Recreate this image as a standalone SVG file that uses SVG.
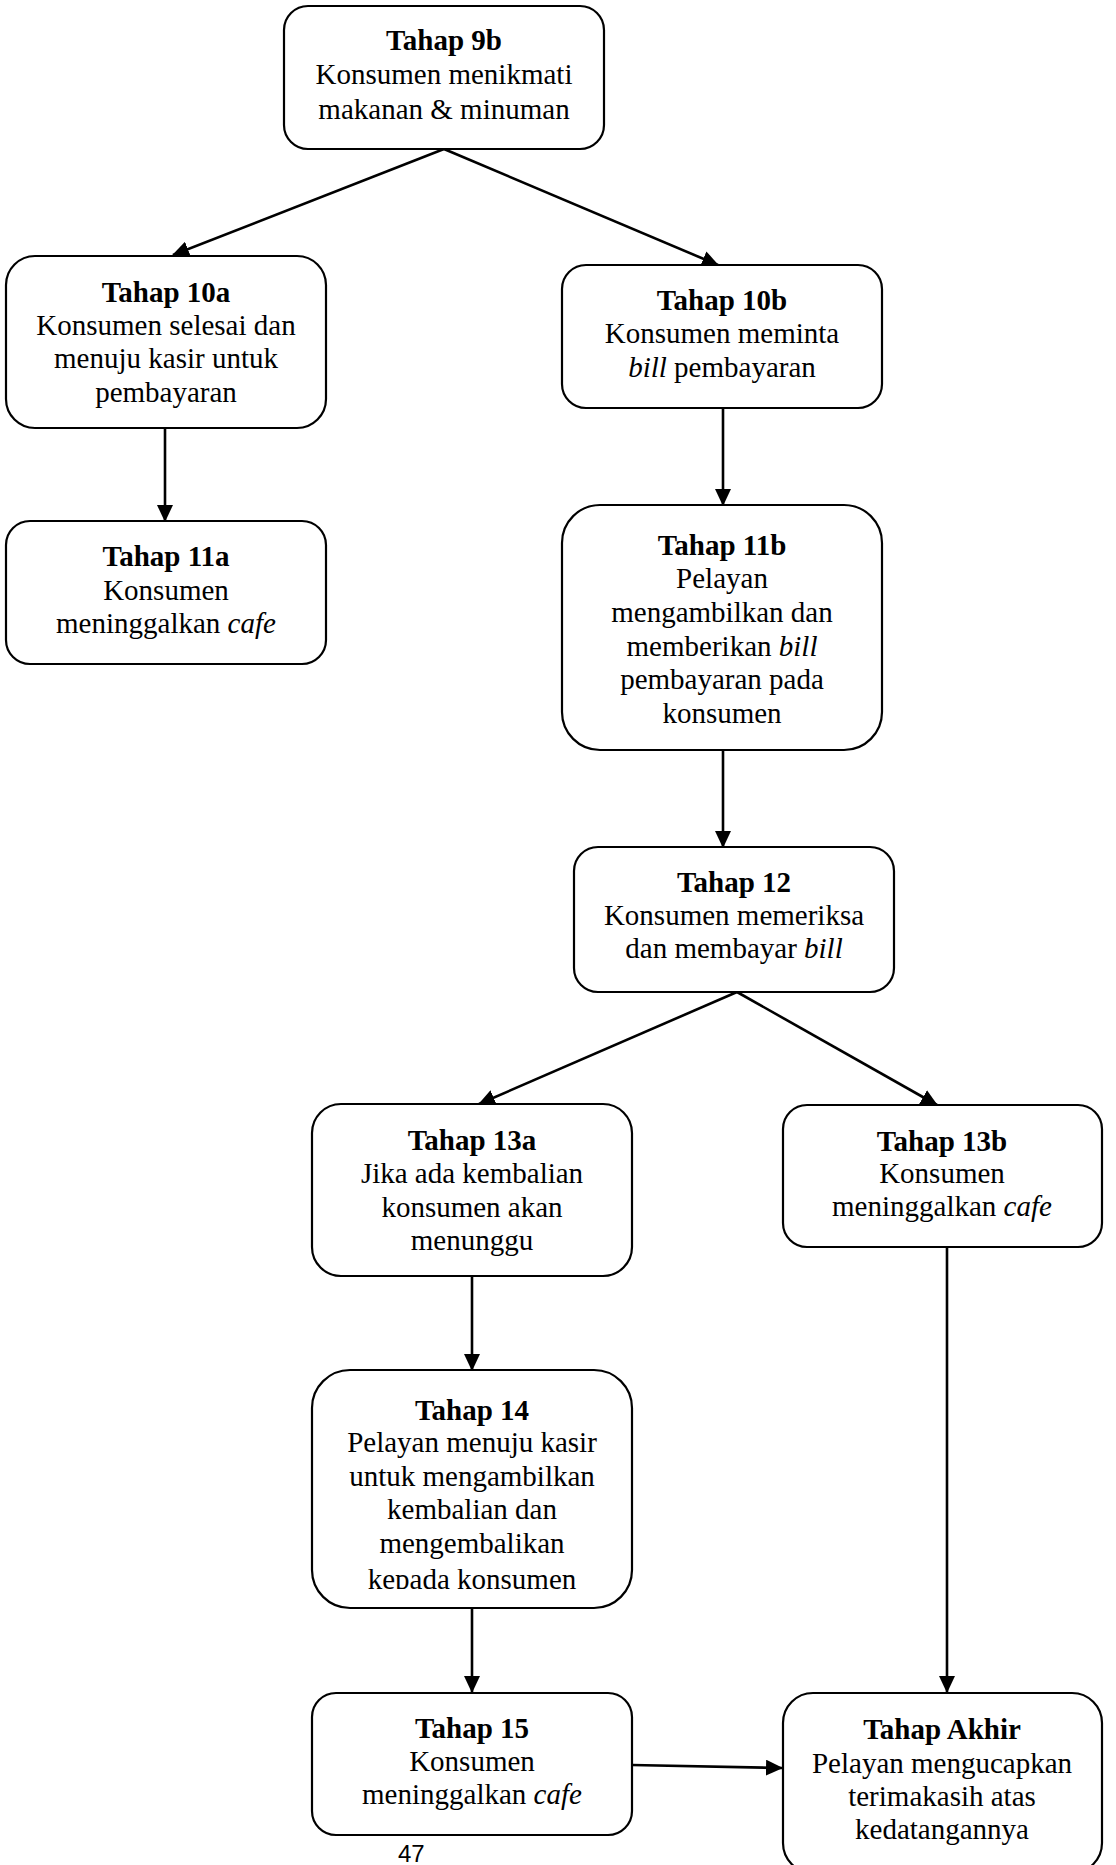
<svg xmlns="http://www.w3.org/2000/svg" width="1116" height="1865" viewBox="0 0 1116 1865">
  <style>
    .box { fill: #ffffff; stroke: #000000; stroke-width: 2.2; }
    .t { font-family: "Liberation Serif", "Times New Roman", serif; font-size: 29px; fill: #000000; text-anchor: middle; }
    .b { font-weight: bold; }
    .i { font-style: italic; }
    .c { fill: none; stroke: #000000; stroke-width: 2.6; marker-end: url(#ah); }
    .pg { font-family: "Liberation Sans", Arial, sans-serif; font-size: 24px; fill: #000000; }
  </style>
  <defs>
    <marker id="ah" markerUnits="userSpaceOnUse" markerWidth="17" markerHeight="16" refX="16" refY="8" orient="auto">
      <path d="M0,0 L17,8 L0,16 Z" fill="#000000"/>
    </marker>
    <clipPath id="clip14">
      <rect x="312" y="1371" width="320" height="218"/>
    </clipPath>
  </defs>
  <rect width="1116" height="1865" fill="#ffffff"/>

  <g id="connectors">
    <line class="c" x1="444" y1="149" x2="173" y2="255"/>
    <line class="c" x1="444" y1="149" x2="718" y2="265"/>
    <line class="c" x1="165" y1="428" x2="165" y2="521"/>
    <line class="c" x1="723" y1="408" x2="723" y2="505"/>
    <line class="c" x1="723" y1="750" x2="723" y2="847"/>
    <line class="c" x1="737" y1="992" x2="479" y2="1104"/>
    <line class="c" x1="737" y1="992" x2="937" y2="1105"/>
    <line class="c" x1="472" y1="1276" x2="472" y2="1370"/>
    <line class="c" x1="947" y1="1247" x2="947" y2="1692"/>
    <line class="c" x1="472" y1="1608" x2="472" y2="1692"/>
    <line class="c" x1="632" y1="1765" x2="782" y2="1768"/>
  </g>

  <g id="node-9b">
    <rect class="box" x="284" y="6" width="320" height="143" rx="24" ry="24"/>
    <text class="t b" x="444" y="50">Tahap 9b</text>
    <text class="t" x="444" y="84">Konsumen menikmati</text>
    <text class="t" x="444" y="119">makanan &amp; minuman</text>
  </g>

  <g id="node-10a">
    <rect class="box" x="6" y="256" width="320" height="172" rx="29" ry="29"/>
    <text class="t b" x="166" y="302">Tahap 10a</text>
    <text class="t" x="166" y="335">Konsumen selesai dan</text>
    <text class="t" x="166" y="368">menuju kasir untuk</text>
    <text class="t" x="166" y="402">pembayaran</text>
  </g>

  <g id="node-10b">
    <rect class="box" x="562" y="265" width="320" height="143" rx="24" ry="24"/>
    <text class="t b" x="722" y="310">Tahap 10b</text>
    <text class="t" x="722" y="343">Konsumen meminta</text>
    <text class="t" x="722" y="377"><tspan class="i">bill</tspan> pembayaran</text>
  </g>

  <g id="node-11a">
    <rect class="box" x="6" y="521" width="320" height="143" rx="24" ry="24"/>
    <text class="t b" x="166" y="566">Tahap 11a</text>
    <text class="t" x="166" y="600">Konsumen</text>
    <text class="t" x="166" y="633">meninggalkan <tspan class="i">cafe</tspan></text>
  </g>

  <g id="node-11b">
    <rect class="box" x="562" y="505" width="320" height="245" rx="38" ry="38"/>
    <text class="t b" x="722" y="555">Tahap 11b</text>
    <text class="t" x="722" y="588">Pelayan</text>
    <text class="t" x="722" y="622">mengambilkan dan</text>
    <text class="t" x="722" y="656">memberikan <tspan class="i">bill</tspan></text>
    <text class="t" x="722" y="689">pembayaran pada</text>
    <text class="t" x="722" y="723">konsumen</text>
  </g>

  <g id="node-12">
    <rect class="box" x="574" y="847" width="320" height="145" rx="24" ry="24"/>
    <text class="t b" x="734" y="892">Tahap 12</text>
    <text class="t" x="734" y="925">Konsumen memeriksa</text>
    <text class="t" x="734" y="958">dan membayar <tspan class="i">bill</tspan></text>
  </g>

  <g id="node-13a">
    <rect class="box" x="312" y="1104" width="320" height="172" rx="29" ry="29"/>
    <text class="t b" x="472" y="1150">Tahap 13a</text>
    <text class="t" x="472" y="1183">Jika ada kembalian</text>
    <text class="t" x="472" y="1217">konsumen akan</text>
    <text class="t" x="472" y="1250">menunggu</text>
  </g>

  <g id="node-13b">
    <rect class="box" x="783" y="1105" width="319" height="142" rx="24" ry="24"/>
    <text class="t b" x="942" y="1151">Tahap 13b</text>
    <text class="t" x="942" y="1183">Konsumen</text>
    <text class="t" x="942" y="1216">meninggalkan <tspan class="i">cafe</tspan></text>
  </g>

  <g id="node-14">
    <rect class="box" x="312" y="1370" width="320" height="238" rx="38" ry="38"/>
    <g clip-path="url(#clip14)">
      <text class="t b" x="472" y="1420">Tahap 14</text>
      <text class="t" x="472" y="1452">Pelayan menuju kasir</text>
      <text class="t" x="472" y="1486">untuk mengambilkan</text>
      <text class="t" x="472" y="1519">kembalian dan</text>
      <text class="t" x="472" y="1553">mengembalikan</text>
      <text class="t" x="472" y="1589">kepada konsumen</text>
    </g>
  </g>

  <g id="node-15">
    <rect class="box" x="312" y="1693" width="320" height="142" rx="24" ry="24"/>
    <text class="t b" x="472" y="1738">Tahap 15</text>
    <text class="t" x="472" y="1771">Konsumen</text>
    <text class="t" x="472" y="1804">meninggalkan <tspan class="i">cafe</tspan></text>
  </g>

  <g id="node-akhir">
    <rect class="box" x="783" y="1693" width="319" height="180" rx="30" ry="30"/>
    <text class="t b" x="942" y="1739">Tahap Akhir</text>
    <text class="t" x="942" y="1773">Pelayan mengucapkan</text>
    <text class="t" x="942" y="1806">terimakasih atas</text>
    <text class="t" x="942" y="1839">kedatangannya</text>
  </g>

  <text class="pg" x="398" y="1862">47</text>
</svg>
